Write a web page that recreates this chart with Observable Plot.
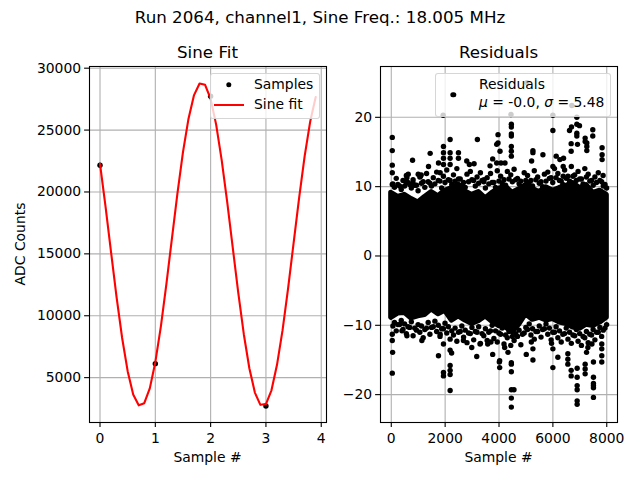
<!DOCTYPE html>
<html><head><meta charset="utf-8">
<script src="https://cdn.jsdelivr.net/npm/d3@7"></script>
<script src="https://cdn.jsdelivr.net/npm/@observablehq/plot@0.6"></script>
<style>
body{margin:0;background:#fff;}
#fig{position:relative;width:640px;height:480px;font-family:"DejaVu Sans",sans-serif;color:#000;overflow:hidden;background:#fff}
#fig svg{position:absolute;top:0;}
.t{position:absolute;white-space:nowrap;line-height:1;transform:translate(-50%,-50%)}
.lt{position:absolute;white-space:nowrap;line-height:1;transform:translate(0,-50%);font-size:13.9px}
.leg{position:absolute;box-sizing:border-box;background:rgba(255,255,255,0.8);border:1px solid rgba(204,204,204,0.8);border-radius:3px}
.ldot{position:absolute;width:5.4px;height:5.4px;border-radius:50%;background:#000;transform:translate(-50%,-50%)}
.lline{position:absolute;height:2px;background:#ff0000;transform:translate(0,-50%)}
</style></head>
<body>
<div id="fig">
  <div class="t" style="left:320px;top:17px;font-size:16.7px">Run 2064, channel1, Sine Freq.: 18.005 MHz</div>
  <div class="t" style="left:207.5px;top:52px;font-size:16.7px">Sine Fit</div>
  <div class="t" style="left:498.5px;top:52px;font-size:16.7px">Residuals</div>
  <div class="t" style="left:207.5px;top:458px;font-size:13.9px">Sample #</div>
  <div class="t" style="left:498.5px;top:458px;font-size:13.9px">Sample #</div>
  <div class="t" style="left:21px;top:244px;font-size:13.9px;transform:translate(-50%,-50%) rotate(-90deg)">ADC Counts</div>
</div>
<script>
// ---- Left panel: samples and sine fit ----
const sampleX = [0, 1, 2, 3];
const sampleY = [22160, 6130, 27740, 2710];
const fitX = [0,0.1,0.2,0.3,0.4,0.5,0.6,0.7,0.8,0.9,1,1.1,1.2,1.3,1.4,1.5,1.6,1.7,1.8,1.9,2,2.1,2.2,2.3,2.4,2.5,2.6,2.7,2.8,2.9,3,3.1,3.2,3.3,3.4,3.5,3.6,3.7,3.8,3.9];
const fitY = [22268,18815,15125,11489,8203,5520,3637,2763,2932,4133,6249,9127,12553,16238,19894,23213,25921,27827,28765,28660,27522,25440,22579,19176,15499,11843,8508,5760,3793,2803,2865,3975,6035,8815,12194,15864,19530,22894,25682,27677];
const leftXTicks = [0, 1, 2, 3, 4];
const leftYTicks = [5000, 10000, 15000, 20000, 25000, 30000];

// ---- Right panel: residuals ----
// dense core of residuals: envelope
const coreX  = [0,250,500,750,1000,1250,1500,1750,2000,2250,2500,2750,3000,3250,3500,3750,4000,4250,4500,4750,5000,5250,5500,5750,6000,6250,6500,6750,7000,7250,7500,7750,8000];
const coreHi = [9.1,8.5,8.8,8.2,7.7,8.5,9.2,8.6,9.4,9.8,10.3,9.3,8.8,9.2,8.3,9.1,9.7,10.0,9.1,9.6,10.2,9.7,9.2,9.9,9.4,9.8,10.1,10.5,9.8,10.2,9.1,9.4,8.8];
const coreLo = [-8.9,-8.3,-8.2,-9.0,-8.7,-8.5,-7.7,-8.4,-7.9,-9.3,-8.7,-9.3,-9.8,-9.4,-8.7,-9.5,-10.1,-10.3,-11.0,-9.9,-8.4,-9.2,-8.9,-9.3,-9.1,-9.6,-9.8,-10.3,-10.5,-9.9,-10.1,-9.6,-8.9];
// edge samples scattered along the upper and lower borders of the core
const edgeAX = [60,185,310,435,560,685,810,935,1060,1185,1310,1435,1560,1685,1810,1935,2060,2185,2310,2435,2560,2685,2810,2935,3060,3185,3310,3435,3560,3685,3810,3935,4060,4185,4310,4435,4560,4685,4810,4935,5060,5185,5310,5435,5560,5685,5810,5935,6060,6185,6310,6435,6560,6685,6810,6935,7060,7185,7310,7435,7560,7685,7810,7935];
const edgeAUp = [10.4,11.2,10.1,10.9,11.6,10.3,11.0,10.2,11.4,10.7,11.9,10.5,11.3,12.1,10.8,11.5,12.4,10.9,11.7,12.6,11.1,10.6,11.8,12.2,10.9,11.4,12.0,10.7,11.3,11.9,10.6,12.3,11.5,11.0,12.2,11.7,12.5,11.2,10.8,12.0,11.6,10.9,12.3,11.4,10.7,11.8,12.1,11.3,12.6,11.9,10.8,12.4,11.5,12.9,11.7,12.2,11.1,12.6,11.8,10.9,11.4,12.0,10.7,10.3];
const edgeALo = [-10.1,-10.8,-9.9,-10.6,-11.2,-10.3,-11.5,-10.7,-11.0,-11.8,-10.4,-11.3,-10.2,-10.9,-11.6,-10.5,-11.1,-12.0,-11.4,-12.3,-10.9,-11.7,-12.5,-11.2,-12.1,-11.0,-12.6,-11.5,-12.2,-10.8,-11.9,-12.4,-11.3,-12.7,-11.8,-12.9,-12.2,-11.6,-12.8,-11.1,-10.6,-11.4,-12.0,-10.9,-11.7,-10.5,-11.3,-12.1,-11.0,-11.8,-12.4,-11.2,-12.0,-12.6,-11.5,-12.3,-12.9,-11.8,-12.5,-11.4,-12.1,-11.0,-11.6,-10.4];
const edgeBX = [120,245,370,495,620,745,870,995,1120,1245,1370,1495,1620,1745,1870,1995,2120,2245,2370,2495,2620,2745,2870,2995,3120,3245,3370,3495,3620,3745,3870,3995,4120,4245,4370,4495,4620,4745,4870,4995,5120,5245,5370,5495,5620,5745,5870,5995,6120,6245,6370,6495,6620,6745,6870,6995,7120,7245,7370,7495,7620,7745,7870,7995];
const edgeBUp = [9.9,10.3,9.6,10.1,10.6,9.8,10.2,9.4,10.5,9.9,10.7,10.1,10.4,10.9,9.8,10.6,11.0,10.3,10.8,11.1,10.2,9.9,10.7,11.0,10.1,10.5,10.9,9.8,10.4,10.6,9.9,10.8,10.5,10.2,11.1,10.7,11.0,10.4,10.0,10.9,10.6,10.1,11.0,10.5,10.0,10.8,11.2,10.6,11.3,10.9,10.3,11.2,10.8,11.5,10.9,11.1,10.4,11.4,10.8,10.2,10.6,10.9,10.1,9.8];
const edgeBLo = [-9.6,-9.9,-9.3,-9.8,-10.2,-9.5,-10.4,-9.9,-10.1,-10.6,-9.6,-10.3,-9.4,-10.0,-10.5,-9.7,-10.2,-10.8,-10.4,-11.0,-10.1,-10.7,-11.1,-10.3,-10.9,-10.2,-11.2,-10.5,-11.0,-10.0,-10.8,-11.1,-10.4,-11.4,-10.9,-11.6,-11.2,-10.7,-11.3,-10.3,-9.8,-10.5,-10.9,-10.1,-10.6,-9.8,-10.4,-11.0,-10.2,-10.8,-11.3,-10.4,-11.0,-11.4,-10.6,-11.2,-11.6,-10.9,-11.3,-10.6,-11.0,-10.3,-10.7,-9.9];
// individually visible outlying residual samples (sample index, residual)
const outX = [37,37,37,37,37,790,580,1444,1383,1111,1753,1938,1938,1938,1938,2185,2185,2185,2185,2494,2494,2802,2900,3197,3074,3444,3765,3914,3914,3667,3963,3963,4037,4074,4457,4457,4457,4457,4457,4457,4457,4222,5259,5259,5210,5630,6000,6000,6123,6260,6395,6383,6383,6617,6679,6679,6691,6889,6889,6889,6988,6914,7198,7198,7260,7260,7260,7481,7481,7827,7827,7827,7864,1815,1000,1086,630,556,802,
  1926,4444,6000,6704,6889,5037,
  50,37,37,37,396,580,1136,1753,1938,1938,2185,2185,2185,2185,2185,2240,1938,2988,3173,3296,3765,3580,3700,4012,2679,1815,
  4457,4556,4457,4457,4457,4457,4457,4025,4025,4210,4333,5012,5259,5259,5200,6000,6185,6000,5950,6556,6556,6556,6679,6679,6901,6901,6901,6901,6901,6901,7198,7198,7198,7506,7506,7506,7506,7506,7506,7815,7815,7815,7815,7450,7300,7250];
const outY = [17.1,15.2,13.1,12.0,10.3,13.8,11.3,14.8,12.9,11.7,13.4,15.8,14.9,14.1,13.2,16.8,14.9,14.1,13.2,14.9,14.1,13.7,13.2,16.8,13.3,11.0,14.0,16.1,13.4,13.0,17.5,16.3,15.1,13.4,19.0,18.6,17.6,17.3,15.8,15.1,14.4,13.4,15.2,14.9,13.7,14.6,18.1,12.9,14.4,13.9,14.1,11.5,12.9,18.1,16.2,15.1,18.6,19.0,17.7,17.3,18.8,16.1,17.0,16.5,16.3,15.8,15.2,18.2,17.3,15.6,14.6,13.9,11.6,12.0,11.8,11.5,11.8,10.6,10.6,
  20.3,20.4,20.3,21.7,20.0,25.0,
  -13.9,-16.9,-12.2,-11.3,-10.8,-11.5,-12.2,-14.4,-16.8,-17.3,-15.8,-16.5,-17.1,-19.4,-13.6,-14.0,-12.7,-13.2,-14.5,-12.7,-14.2,-12.7,-12.4,-15.3,-12.2,-11.3,
  -19.3,-19.3,-20.5,-21.8,-16.7,-15.4,-15.6,-15.1,-16.1,-13.2,-13.9,-14.2,-15.0,-13.4,-12.4,-16.1,-14.6,-13.4,-12.6,-14.1,-14.9,-15.6,-16.5,-17.3,-16.2,-17.5,-18.7,-19.3,-20.9,-21.4,-15.6,-16.3,-17.0,-17.5,-18.4,-18.7,-19.0,-20.4,-15.3,-12.7,-13.4,-14.4,-15.3,-12.7,-13.2,-13.9];
const rightXTicks = [0, 2000, 4000, 6000, 8000];
const rightYTicks = [-20, -10, 0, 10, 20];

const minus = d => d < 0 ? "\u2212" + (-d) : String(d);
const baseStyle = {fontFamily: "DejaVu Sans, sans-serif", fontSize: "13.9px", color: "#000", background: "transparent", overflow: "visible"};
const gridOpts = {stroke: "#b0b0b0", strokeOpacity: 1, strokeWidth: 1.1};
const axisOpts = {tickSize: 4.9, tickPadding: 3.5, strokeWidth: 1.1, label: null};

const fitRows = fitX.map((x, i) => ({x, y: fitY[i]}));
const sampleRows = sampleX.map((x, i) => ({x, y: sampleY[i]}));

const left = Plot.plot({
  width: 330, height: 480,
  marginLeft: 89, marginRight: 4, marginTop: 66, marginBottom: 58,
  style: baseStyle,
  x: {domain: [-0.19, 4.095]},
  y: {domain: [1375, 30137]},
  marks: [
    Plot.gridX(leftXTicks, gridOpts),
    Plot.gridY(leftYTicks, gridOpts),
    Plot.dot(sampleRows, {x: "x", y: "y", r: 2.7, fill: "black"}),
    Plot.line(fitRows, {x: "x", y: "y", stroke: "#ff0000", strokeWidth: 2.1}),
    Plot.axisX(leftXTicks, {...axisOpts, tickPadding: 6, tickFormat: d => String(d)}),
    Plot.axisY(leftYTicks, {...axisOpts, tickFormat: d => String(d)}),
    Plot.frame({stroke: "black", strokeWidth: 1.1})
  ]
});
left.style.left = "0px";

const coreRows = coreX.map((x, i) => ({x, lo: coreLo[i], hi: coreHi[i]}));
const outRows = [
  ...outX.map((x, i) => ({x, y: outY[i]})),
  ...edgeAX.map((x, i) => ({x, y: edgeAUp[i]})),
  ...edgeAX.map((x, i) => ({x, y: edgeALo[i]})),
  ...edgeBX.map((x, i) => ({x, y: edgeBUp[i]})),
  ...edgeBX.map((x, i) => ({x, y: edgeBLo[i]}))
];

const right = Plot.plot({
  width: 310, height: 480,
  marginLeft: 50, marginRight: 23, marginTop: 66, marginBottom: 58,
  style: baseStyle,
  x: {domain: [-400, 8399]},
  y: {domain: [-24.02, 27.33]},
  marks: [
    Plot.gridX(rightXTicks, gridOpts),
    Plot.gridY(rightYTicks, gridOpts),
    Plot.areaY(coreRows, {x: "x", y1: "lo", y2: "hi", fill: "black", stroke: "black", strokeWidth: 5.2, strokeLinejoin: "round"}),
    Plot.dot(outRows, {x: "x", y: "y", r: 2.7, fill: "black"}),
    Plot.axisX(rightXTicks, {...axisOpts, tickPadding: 6, tickFormat: d => String(d)}),
    Plot.axisY(rightYTicks, {...axisOpts, tickFormat: minus}),
    Plot.frame({stroke: "black", strokeWidth: 1.1})
  ]
});
right.style.left = "330px";

const fig = document.getElementById("fig");
fig.insertBefore(right, fig.firstChild);
fig.insertBefore(left, fig.firstChild);

// legends (drawn above the plots, semi-transparent like the reference)
const legHTML = `
  <div class="leg" style="left:210px;top:72.5px;width:110px;height:46px"></div>
  <div class="ldot" style="left:229px;top:84.5px"></div>
  <div class="lt" style="left:254px;top:84.5px">Samples</div>
  <div class="lline" style="left:214px;top:105px;width:30px"></div>
  <div class="lt" style="left:254px;top:105px">Sine fit</div>
  <div class="leg" style="left:435px;top:72.5px;width:176px;height:44.5px"></div>
  <div class="ldot" style="left:453.3px;top:95px"></div>
  <div class="lt" style="left:479px;top:84.5px">Residuals</div>
  <div class="lt" style="left:479px;top:103px"><i>μ</i> = -0.0, <i>σ</i> = 5.48</div>`;
fig.insertAdjacentHTML("beforeend", legHTML);
</script>
</body></html>
